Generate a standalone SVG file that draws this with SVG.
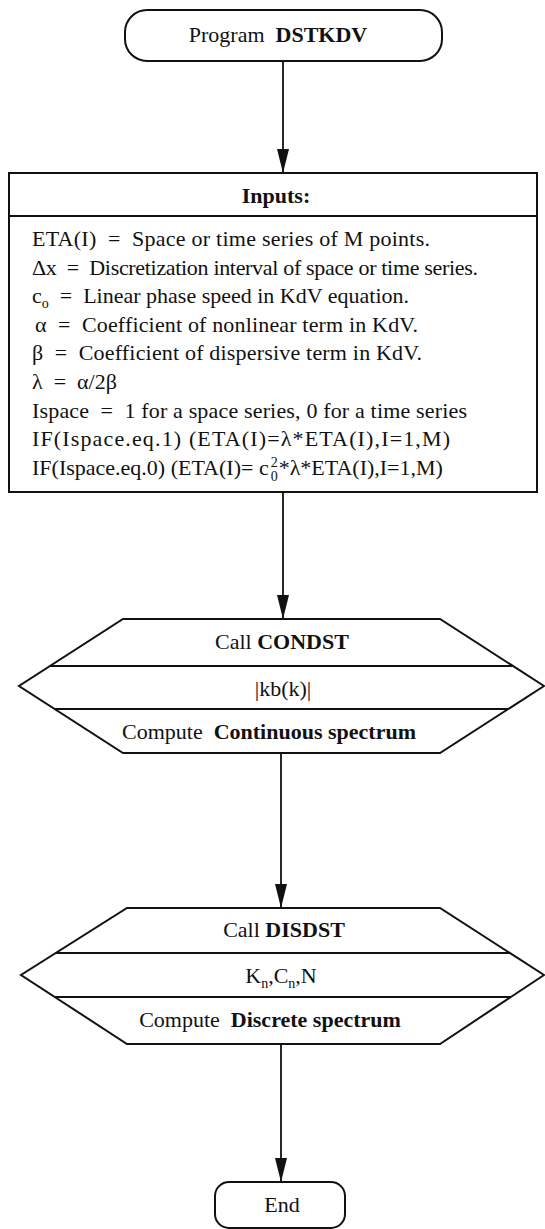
<svg xmlns="http://www.w3.org/2000/svg" width="545" height="1229" viewBox="0 0 545 1229">
<defs>
<marker id="ah" markerWidth="24" markerHeight="12" refX="24" refY="6" orient="auto" markerUnits="userSpaceOnUse" viewBox="0 0 24 12">
<path d="M0,0 L24,6 L0,12 Z" fill="#111"/>
</marker>
</defs>
<style>
text{font-family:"Liberation Serif","Times New Roman",serif;font-size:22px;fill:#111;white-space:pre}
.b{font-weight:bold}
.s{font-size:14px}
.shape{fill:#fff;stroke:#111;stroke-width:2}
.ln{stroke:#111;stroke-width:1.8;fill:none}
.cn{stroke:#111;stroke-width:1.8;fill:none;marker-end:url(#ah)}
</style>
<rect width="545" height="1229" fill="#fff"/>
<g id="connectors">
<line class="cn" x1="283" y1="61" x2="283" y2="173"/>
<line class="cn" x1="283" y1="492" x2="283" y2="619"/>
<line class="cn" x1="281" y1="753" x2="281" y2="908"/>
<line class="cn" x1="281" y1="1044" x2="281" y2="1182"/>
</g>
<g id="start" xml:space="preserve">
<rect class="shape" x="125" y="10" width="317" height="51" rx="22"/>
<text x="278" y="42" text-anchor="middle">Program  <tspan class="b">DSTKDV</tspan></text>
</g>
<g id="inputs" xml:space="preserve">
<rect class="shape" x="9" y="173" width="528" height="319"/>
<line class="ln" x1="9" y1="216" x2="537" y2="216"/>
<text x="276" y="203" text-anchor="middle" class="b">Inputs:</text>
<text x="32" y="246" textLength="398" lengthAdjust="spacing">ETA(I)  =  Space or time series of M points.</text>
<text x="32" y="274.5" textLength="446" lengthAdjust="spacing">Δx  =  Discretization interval of space or time series.</text>
<text x="32" y="303">c<tspan class="s" dy="5">o</tspan><tspan dy="-5">  =  Linear phase speed in KdV equation.</tspan></text>
<text x="35" y="331.5" textLength="383" lengthAdjust="spacing">α  =  Coefficient of nonlinear term in KdV.</text>
<text x="32" y="360" textLength="390" lengthAdjust="spacing">β  =  Coefficient of dispersive term in KdV.</text>
<text x="32" y="389">λ  =  α/2β</text>
<text x="32" y="417.5" textLength="435" lengthAdjust="spacing">Ispace  =  1 for a space series, 0 for a time series</text>
<text x="32" y="446" textLength="418" lengthAdjust="spacing">IF(Ispace.eq.1) (ETA(I)=λ*ETA(I),I=1,M)</text>
<text x="32" y="474.5">IF(Ispace.eq.0) (ETA(I)= c<tspan class="s" dx="2" dy="-8">2</tspan><tspan class="s" dx="-7" dy="14">0</tspan><tspan dy="-6" dx="1">*λ*ETA(I),I=1,M)</tspan></text>
</g>
<g id="condst" xml:space="preserve">
<polygon class="shape" points="123,619 440,619 544,686 440,753 123,753 19,686"/>
<line class="ln" x1="50" y1="666" x2="513" y2="666"/>
<line class="ln" x1="55" y1="709" x2="508" y2="709"/>
<text x="282" y="649" text-anchor="middle">Call <tspan class="b">CONDST</tspan></text>
<text x="283" y="696" text-anchor="middle">|kb(k)|</text>
<text x="269" y="739" text-anchor="middle">Compute  <tspan class="b">Continuous spectrum</tspan></text>
</g>
<g id="disdst" xml:space="preserve">
<polygon class="shape" points="127,908 440,908 544,975 440,1044 127,1044 21,975"/>
<line class="ln" x1="56" y1="953" x2="510" y2="953"/>
<line class="ln" x1="55" y1="997" x2="511" y2="997"/>
<text x="284" y="937" text-anchor="middle">Call <tspan class="b">DISDST</tspan></text>
<text x="281" y="983" text-anchor="middle">K<tspan class="s" dy="5">n</tspan><tspan dy="-5">,C</tspan><tspan class="s" dy="5">n</tspan><tspan dy="-5">,N</tspan></text>
<text x="270" y="1027" text-anchor="middle">Compute  <tspan class="b">Discrete spectrum</tspan></text>
</g>
<g id="end">
<rect class="shape" x="215" y="1182" width="130" height="46" rx="14"/>
<text x="282" y="1212" text-anchor="middle">End</text>
</g>
</svg>
